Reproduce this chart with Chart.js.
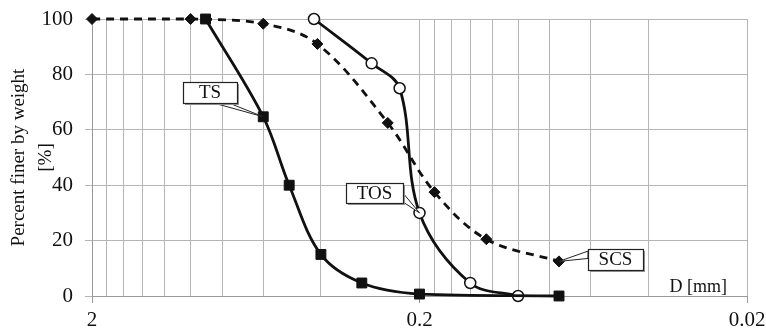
<!DOCTYPE html>
<html>
<head>
<meta charset="utf-8">
<script src="https://cdn.jsdelivr.net/npm/chart.js@4"></script>
<style>
  html, body { margin: 0; padding: 0; background: #fff; }
  #wrap { width: 766px; height: 330px; }
</style>
</head>
<body>
<div id="wrap"><canvas id="psdChart"></canvas></div>
<script>
// Grain size (mm) and percent finer for each sample
const scsSize = [2, 1, 0.6, 0.41, 0.25, 0.18, 0.125, 0.075];
const scsFiner = [100, 100, 98.3, 91, 62.5, 37.5, 20.5, 12.5];

const tsSize = [0.9, 0.6, 0.5, 0.4, 0.3, 0.2, 0.075];
const tsFiner = [100, 64.7, 40, 15, 4.7, 0.7, 0];

const tosSize = [0.42, 0.28, 0.23, 0.2, 0.14, 0.1];
const tosFiner = [100, 84, 75, 30, 4.7, 0];

// Axis ticks
const xGridTicks = [2, 1.8, 1.6, 1.4, 1.2, 1, 0.8, 0.6, 0.4, 0.2,
  0.18, 0.16, 0.14, 0.12, 0.1, 0.08, 0.06, 0.04, 0.02];
const xLabelTicks = [2, 0.2, 0.02];
const yTicks = [0, 20, 40, 60, 80, 100];

const FONT = "'Liberation Serif', 'Times New Roman', serif";
const GRID = "#b5b5b5";

function toPoints(xs, ys) {
  return xs.map((x, i) => ({ x: x, y: ys[i] }));
}

// Callout boxes with a wedge pointer, plus the axis unit text
const calloutPlugin = {
  id: "callouts",
  afterDatasetsDraw(chart, args, opts) {
    const ctx = chart.ctx;
    ctx.save();
    opts.items.forEach(c => {
      const pt = chart.getDatasetMeta(c.ds).data[c.idx];
      const bx = Math.round(pt.x + c.dx - c.w / 2);
      const by = Math.round(pt.y + c.dy - c.h / 2);

      // wedge
      ctx.beginPath();
      ctx.moveTo(bx + c.wedge[0][0] * c.w, by + c.wedge[0][1] * c.h);
      ctx.lineTo(pt.x, pt.y);
      ctx.lineTo(bx + c.wedge[1][0] * c.w, by + c.wedge[1][1] * c.h);
      ctx.closePath();
      ctx.fillStyle = "#fff";
      ctx.fill();
      ctx.strokeStyle = "#222";
      ctx.lineWidth = 1;
      ctx.stroke();

      // shadow + box
      ctx.fillStyle = "#9a9a9a";
      ctx.fillRect(bx + 2, by + 2, c.w, c.h);
      ctx.fillStyle = "#fff";
      ctx.fillRect(bx, by, c.w, c.h);
      ctx.strokeStyle = "#222";
      ctx.lineWidth = 1.2;
      ctx.strokeRect(bx + 0.5, by + 0.5, c.w, c.h);

      ctx.fillStyle = "#111";
      ctx.font = "19px " + FONT;
      ctx.textAlign = "center";
      ctx.textBaseline = "middle";
      ctx.fillText(c.text, bx + c.w / 2, by + c.h / 2 + 1);
    });

    const area = chart.chartArea;
    ctx.fillStyle = "#111";
    ctx.font = "18px " + FONT;
    ctx.textAlign = "right";
    ctx.textBaseline = "bottom";
    ctx.fillText("D [mm]", area.right - 20, area.bottom);
    ctx.restore();
  }
};

const ctx = document.getElementById("psdChart").getContext("2d");
const psdChart = new Chart(ctx, {
  type: "line",
  data: {
    datasets: [
      {
        label: "SCS",
        data: toPoints(scsSize, scsFiner),
        borderColor: "#111",
        borderWidth: 2.8,
        borderDash: [8, 6],
        tension: 0.35,
        clip: 10,
        pointStyle: "rectRot",
        pointRadius: 5.5,
        pointBackgroundColor: "#111",
        pointBorderColor: "#111",
        pointBorderWidth: 1
      },
      {
        label: "TS",
        data: toPoints(tsSize, tsFiner),
        borderColor: "#111",
        borderWidth: 2.8,
        tension: 0.35,
        clip: 10,
        pointStyle: "rect",
        pointRadius: 7,
        pointBackgroundColor: "#111",
        pointBorderColor: "#111",
        pointBorderWidth: 1
      },
      {
        label: "TOS",
        data: toPoints(tosSize, tosFiner),
        borderColor: "#111",
        borderWidth: 2.8,
        tension: 0.35,
        clip: 10,
        pointStyle: "circle",
        pointRadius: 5.5,
        pointBackgroundColor: "#fff",
        pointBorderColor: "#111",
        pointBorderWidth: 1.5
      }
    ]
  },
  options: {
    responsive: true,
    maintainAspectRatio: false,
    animation: false,
    layout: { padding: { top: 19, right: 19, left: 0, bottom: 0 } },
    plugins: {
      legend: { display: false },
      tooltip: { enabled: false },
      callouts: {
        items: [
          { ds: 1, idx: 1, text: "TS", dx: -53, dy: -24, w: 54, h: 21, wedge: [[0.57, 1], [0.85, 1]] },
          { ds: 2, idx: 3, text: "TOS", dx: -45, dy: -20, w: 57, h: 20, wedge: [[1, 0.5], [1, 0.95]] },
          { ds: 0, idx: 7, text: "SCS", dx: 56, dy: -2, w: 55, h: 21, wedge: [[0, 0.1], [0, 0.45]] }
        ]
      }
    },
    scales: {
      x: {
        type: "logarithmic",
        reverse: true,
        min: 0.02,
        max: 2,
        afterBuildTicks: (scale) => {
          scale.ticks = xGridTicks.map(v => ({ value: v, major: xLabelTicks.includes(v) }));
        },
        afterFit: (scale) => {
          scale.height = 34;
          scale.paddingLeft = 0;
          scale.paddingRight = 0;
        },
        ticks: {
          autoSkip: false,
          maxRotation: 0,
          padding: 5,
          color: "#111",
          font: { family: FONT, size: 21 },
          callback: (v) => xLabelTicks.includes(v) ? String(v) : ""
        },
        grid: {
          color: GRID,
          lineWidth: 1,
          tickLength: 7,
          tickColor: (c) => (c.tick && xLabelTicks.includes(c.tick.value)) ? "#999" : "rgba(0,0,0,0)"
        },
        border: { color: "#999", width: 1 }
      },
      y: {
        min: 0,
        max: 100,
        afterBuildTicks: (scale) => {
          scale.ticks = yTicks.map(v => ({ value: v }));
        },
        afterFit: (scale) => {
          scale.width = 92;
          scale.paddingTop = 0;
          scale.paddingBottom = 0;
        },
        ticks: {
          padding: 12,
          color: "#111",
          font: { family: FONT, size: 21 }
        },
        grid: { color: GRID, lineWidth: 1, tickLength: 7, tickColor: GRID },
        border: { color: "#999", width: 1 },
        title: {
          display: true,
          text: ["Percent finer by weight", "[%]"],
          color: "#111",
          font: { family: FONT, size: 19, lineHeight: 1.45 },
          padding: { top: 5, bottom: 0 }
        }
      }
    }
  },
  plugins: [calloutPlugin]
});
</script>
</body>
</html>
